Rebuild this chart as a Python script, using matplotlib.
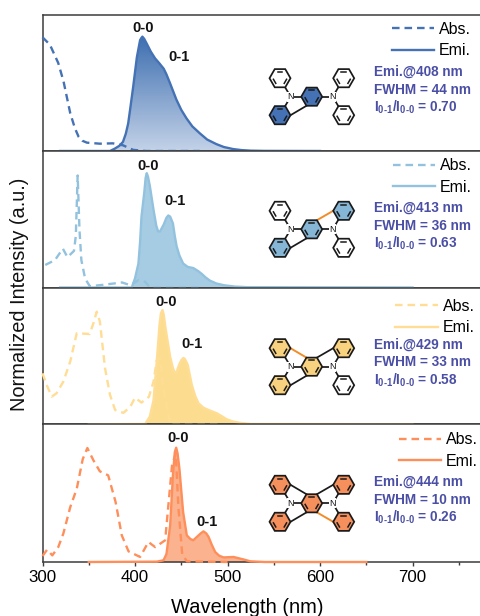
import numpy as np
import matplotlib
matplotlib.use("Agg")
import matplotlib.pyplot as plt
from matplotlib.colors import LinearSegmentedColormap
from matplotlib.patches import Polygon
from matplotlib.ticker import MultipleLocator

plt.rcParams['font.family'] = ['Liberation Sans', 'DejaVu Sans']
plt.rcParams['mathtext.fontset'] = 'custom'
plt.rcParams['mathtext.bf'] = 'Liberation Sans:bold'
plt.rcParams['mathtext.rm'] = 'Liberation Sans:bold'

W, H = 481, 616
LEFT = 42.5
PANEL_EDGES = [14.5, 151, 287.5, 424.3, 562]

colors = ['#4472B4', '#92C2DE', '#FFDD94', '#FF8F5A']
fills = [None, '#A6CCE3', '#FCDD90', '#FBB28E']
ring_fill = ['#4472B4', '#86B6D6', '#F9D27F', '#F58F5C']

emi_x1 = [319, 373, 378, 383, 387, 390, 392.6, 395, 398, 402, 405.5, 407, 408, 410, 412.6, 417, 421.7, 426, 431, 434, 438, 444.7, 450, 455.7, 462, 470, 478, 488, 496, 506, 515, 525, 540, 600]
emi_y1 = [0, 0, .02, .045, .08, .15, .24, .38, .56, .82, .97, .99, 1, .98, .94, .87, .81, .77, .72, .67, .59, .45, .36, .285, .215, .155, .1, .06, .035, .017, .008, .003, .001, 0]
abs_x1 = [300, 308, 317, 322.7, 330, 335, 339, 343, 348, 362, 376, 387, 398, 412, 470]
abs_y1 = [.995, .93, .77, .61, .33, .2, .125, .09, .073, .064, .067, .05, .01, 0, 0]

emi_x2 = [319, 396.5, 400, 403.7, 405.5, 407, 410, 411.5, 412.7, 414, 416, 420, 423, 425, 427, 431, 434, 436, 438, 441, 443, 445, 448, 452, 457, 463, 468, 472, 476, 481, 488, 496, 508, 521, 700]
emi_y2 = [0, 0, .08, .21, .4, .62, .83, .96, 1, .97, .89, .68, .54, .49, .49, .55, .61, .63, .62, .56, .45, .36, .28, .21, .18, .17, .145, .12, .09, .06, .035, .02, .008, .003, 0]
abs_x2 = [303, 313.5, 322, 327, 334, 336, 338, 340, 342, 346, 351, 362, 386, 395, 404, 411, 416, 470]
abs_y2 = [.197, .24, .34, .265, .32, .45, .98, .5, .24, .08, .012, .02, .044, .02, .065, .05, 0, 0]

emi_x3 = [350, 411, 416, 420, 423.5, 426.5, 428, 429.7, 431, 433, 438, 441, 443.4, 445, 447.7, 450, 452.4, 454, 457, 459, 461.4, 465, 468.6, 474, 479.5, 488.5, 494, 499, 506, 514, 525, 700]
emi_y3 = [0, .003, .067, .21, .55, .87, .97, 1, .96, .84, .59, .49, .446, .46, .52, .56, .58, .57, .52, .44, .344, .25, .184, .145, .125, .096, .07, .044, .024, .012, .003, 0]
abs_x3 = [300, 304.5, 310, 315, 322.5, 330, 337, 351, 355, 358.6, 362, 367.6, 373, 378.5, 387.5, 395, 400, 407, 415, 420, 423.5, 427, 431, 438, 490]
abs_y3 = [.446, .344, .242, .27, .373, .55, .796, .79, .883, .985, .9, .49, .257, .125, .1, .155, .233, .19, .24, .373, .56, .58, .3, 0, 0]

emi_x4 = [350, 423.6, 430.8, 434, 438, 441, 443, 444.5, 446, 448, 452, 456, 460, 463, 468.7, 471, 474, 477, 479.5, 483, 486.7, 491, 495.7, 506.5, 517, 524.6, 540, 650]
emi_y4 = [0, .003, .015, .07, .32, .76, .96, 1, .95, .816, .437, .233, .2, .19, .233, .25, .268, .25, .22, .15, .087, .055, .04, .044, .023, .006, 0, 0]
abs_x4 = [300, 305, 310.6, 317, 322.5, 330, 337, 343.5, 348.5, 355, 362, 371, 379, 385.7, 393, 405.5, 414.5, 421.8, 432.6, 440, 444, 447, 451, 456, 500]
abs_y4 = [.052, .108, .058, .13, .248, .48, .64, .9, .997, .89, .793, .758, .525, .233, .093, .044, .175, .13, .19, .845, .95, .47, .07, .006, 0]

emi_x = [emi_x1, emi_x2, emi_x3, emi_x4]
emi_y = [emi_y1, emi_y2, emi_y3, emi_y4]
abs_x = [abs_x1, abs_x2, abs_x3, abs_x4]
abs_y = [abs_y1, abs_y2, abs_y3, abs_y4]

x_ticks = [300, 400, 500, 600, 700]
peak_labels = ['0-0', '0-1']
peak_pos = [[(143.5, 28), (179.5, 57)], [(148, 166), (175, 201)],
            [(166, 302), (192.5, 344)], [(178.5, 437.5), (207, 522)]]
emi_wave = [408, 413, 429, 444]
fwhm = [44, 36, 33, 10]
ratio = ['0.70', '0.63', '0.58', '0.26']
info_y = [72, 208, 345, 482]
legend_pos = [(391.7, 40), (393, 176.5), (395.5, 317), (399, 450.5)]
mol_center = [(311.7, 96.7), (311.7, 229.3), (311.7, 366.7), (311.7, 503.3)]
mol_filled = [['C', 'LL'], ['C', 'LL', 'UR'], ['C', 'UL', 'LL', 'UR'], ['C', 'UL', 'LL', 'UR', 'LR']]
mol_black = [['LL'], ['LL'], ['LL', 'UR'], ['UL', 'LL', 'UR']]
mol_orange = [[], ['UR'], ['UL'], ['LR']]

fig = plt.figure(figsize=(W / 100, H / 100), dpi=100)
axes = []
for i in range(4):
    top, bottom = PANEL_EDGES[i], PANEL_EDGES[i + 1]
    ax = fig.add_axes([LEFT / W, 1 - bottom / H, (W - LEFT) / W, (bottom - top) / H])
    axes.append(ax)

    if i == 0:
        # the first panel fades towards the baseline
        cmap = LinearSegmentedColormap.from_list('fade', ['#C3D2E8', '#3E6FB0'])
        poly = ax.fill_between(emi_x[i], 0, emi_y[i], color='none', lw=0)
        img = ax.imshow(np.linspace(1, 0, 200).reshape(-1, 1), cmap=cmap, aspect='auto',
                        extent=[300, 774, 0, 1.0], zorder=1)
        img.set_clip_path(poly.get_paths()[0], transform=ax.transData)
    else:
        ax.fill_between(emi_x[i], 0, emi_y[i], color=fills[i], lw=0, zorder=1)

    ax.plot(abs_x[i], abs_y[i], color=colors[i], lw=1.7, dashes=(3.2, 2.1),
            label='Abs.', zorder=3, clip_on=False)
    ax.plot(emi_x[i], emi_y[i], color=colors[i], lw=1.7, label='Emi.', zorder=3, clip_on=False)

    ax.set_xlim(300, 774)
    ax.set_ylim(0, (bottom - top) / (343 / 3))
    ax.set_yticks([])
    ax.spines['right'].set_visible(False)
    for s in ['left', 'top', 'bottom']:
        ax.spines[s].set_linewidth(1.1)
        ax.spines[s].set_color('#3c3c3c')
    if i < 3:
        ax.set_xticks([])
    else:
        ax.set_xticks(x_ticks)
        ax.xaxis.set_minor_locator(MultipleLocator(50))
        ax.tick_params(axis='x', which='major', length=3, width=1, color='#3c3c3c', labelsize=12.2, pad=3)
        ax.tick_params(axis='x', which='minor', length=2, width=1, color='#3c3c3c')
        ax.set_xlabel('Wavelength (nm)', fontsize=14.5, labelpad=9, x=(247 - LEFT) / (W - LEFT))

# overlay in reference pixels for the labels, legends and structures
over = fig.add_axes([0, 0, 1, 1], facecolor='none')
over.set_xlim(0, W)
over.set_ylim(H, 0)
over.axis('off')


def ring_verts(cx, cy, r=10.5):
    ang = np.deg2rad(np.arange(0, 360, 60))
    return np.column_stack([cx + r * np.cos(ang), cy + r * np.sin(ang)])


def draw_molecule(cx, cy, filled, black, orange, fill):
    offs = {'C': (0, 0), 'UL': (-31.7, -18.5), 'LL': (-31.7, 18.5), 'UR': (32, -18.5), 'LR': (32, 18.5)}
    lw = 1.25
    # N to ring bonds
    for sx, nx in [(-1, -21), (1, 21)]:
        over.plot([cx + nx, cx + sx * 10.5], [cy, cy], color='#1a1a1a', lw=lw, zorder=4)
        for sy in [-1, 1]:
            over.plot([cx + nx, cx + sx * 26.6], [cy, cy + sy * 9.4], color='#1a1a1a', lw=lw, zorder=4)
    # extra bridging bonds between outer rings and the centre ring
    for name, col, width in [(n, '#1a1a1a', lw) for n in black] + [(n, '#F28C28', 1.4) for n in orange]:
        ox, oy = offs[name]
        sx, sy = np.sign(ox), np.sign(oy)
        over.plot([cx + ox - sx * 10.5, cx + sx * 5.25], [cy + oy, cy + sy * 9.1], color=col, lw=width, zorder=4)
    for name, (ox, oy) in offs.items():
        face = fill if name in filled else 'white'
        verts = ring_verts(cx + ox, cy + oy)
        over.add_patch(Polygon(verts, closed=True, fc=face, ec='#1a1a1a', lw=lw, zorder=5))
        inner = ring_verts(cx + ox, cy + oy, r=7.2)
        for k in [0, 2, 4]:
            a, b = inner[k], inner[(k + 1) % 6]
            mid = (a + b) / 2
            a2, b2 = mid + (a - mid) * .65, mid + (b - mid) * .65
            over.plot([a2[0], b2[0]], [a2[1], b2[1]], color='#1a1a1a', lw=1.1, zorder=6)
    for nx in [-21, 21]:
        over.text(cx + nx, cy, 'N', fontsize=6.5, ha='center', va='center', color='#111111', zorder=7,
                  bbox=dict(fc='white', ec='none', pad=0.4))


for i in range(4):
    for label, (px, py) in zip(peak_labels, peak_pos[i]):
        over.text(px, py, label, fontsize=10.5, fontweight='bold', ha='center', va='center', color='#111111')
    info = [f'Emi.@{emi_wave[i]} nm', f'FWHM = {fwhm[i]} nm',
            r'I$_{\text{0-1}}$/I$_{\text{0-0}}$ = ' + ratio[i]]
    for k, line in enumerate(info):
        over.text(374, info_y[i] + k * 17.5, line, fontsize=9.8, fontweight='bold', color='#4A4FA5',
                  ha='left', va='center')
    draw_molecule(mol_center[i][0], mol_center[i][1], mol_filled[i], mol_black[i], mol_orange[i], ring_fill[i])
    handles, labels = axes[i].get_legend_handles_labels()
    over.legend(handles, labels, loc='center left', bbox_to_anchor=legend_pos[i], bbox_transform=over.transData,
                frameon=False, fontsize=11.5, borderpad=0, borderaxespad=0, handlelength=2.65,
                handletextpad=.3, labelspacing=.4)
    if i < 3:
        over.add_artist(over.get_legend())

over.text(20, 294, 'Normalized Intensity (a.u.)', fontsize=14.4, rotation=90, ha='center', va='center', color='#111111')

fig.savefig('out.png', dpi=100)
